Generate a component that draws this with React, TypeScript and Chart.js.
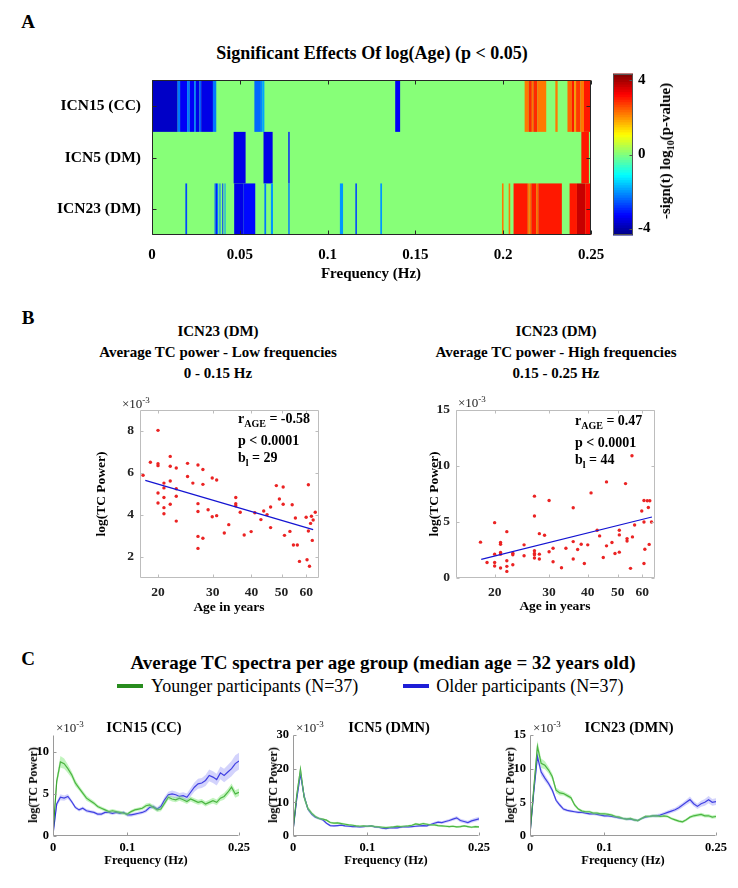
import { useEffect, useRef } from "react";
import { Chart, registerables } from "chart.js";

Chart.register(...registerables);

const SERIF = "'Liberation Serif', 'Times New Roman', Times, serif";

// ---------------- Panel A data ----------------
const heatRows = ["ICN15 (CC)", "ICN5 (DM)", "ICN23 (DM)"];
const heatFreqTicks = [0, 0.05, 0.1, 0.15, 0.2, 0.25];
const colorbarTicks = [-4, 0, 4];
const colorRange = [-4.35, 4.35];
// [start Hz, end Hz, -sign(t) log10(p)]
const icn15Effects = [
  [0.0, 0.0146, -3.8], [0.0146, 0.016, -2.2], [0.016, 0.02, -3.3], [0.02, 0.0215, -2.2],
  [0.0215, 0.024, -3.3], [0.024, 0.025, -2.2], [0.025, 0.027, -3.5], [0.027, 0.028, -2.5],
  [0.028, 0.0347, -3.5], [0.0347, 0.0366, -2.2], [0.0583, 0.062, -2.4], [0.062, 0.063, -2.1],
  [0.063, 0.064, -1.8], [0.1385, 0.1413, -3.3], [0.2122, 0.2145, 2.3], [0.2145, 0.2163, 2.9],
  [0.2163, 0.2172, 2.3], [0.2172, 0.2195, 2.9], [0.2195, 0.2245, 2.3], [0.2297, 0.231, 2.3],
  [0.2366, 0.2391, 2.4], [0.2391, 0.2405, 3.0], [0.2405, 0.2415, 2.0], [0.2415, 0.244, 2.8],
  [0.244, 0.246, 2.3], [0.246, 0.25, 3.0],
];
const icn5Effects = [
  [0.0465, 0.0533, -3.4], [0.0635, 0.0687, -3.4], [0.0776, 0.0784, -3.0], [0.2445, 0.2488, 3.1],
];
const icn23Effects = [
  [0.019, 0.02, -2.6], [0.0356, 0.0362, -2.2], [0.0362, 0.037, -3.0], [0.037, 0.0377, -2.2],
  [0.0384, 0.039, -2.2], [0.04, 0.0405, -2.8], [0.0413, 0.0418, -2.0], [0.0468, 0.052, -3.5],
  [0.052, 0.0588, -3.2], [0.064, 0.065, -2.2], [0.0677, 0.0689, -2.0], [0.0776, 0.0784, -2.2],
  [0.107, 0.1088, -2.0], [0.1158, 0.1167, -2.6], [0.13, 0.131, -2.0], [0.1993, 0.2002, 2.2],
  [0.2031, 0.204, 2.2], [0.2059, 0.214, 3.0], [0.214, 0.215, 2.3], [0.215, 0.216, 2.4],
  [0.216, 0.2188, 3.0], [0.2188, 0.22, 2.4], [0.22, 0.2334, 3.1], [0.2378, 0.242, 3.1],
  [0.242, 0.2467, 3.8], [0.2467, 0.25, 3.2],
];
const heatSegments = [icn15Effects, icn5Effects, icn23Effects];

// ---------------- Panel B data ----------------
const ageTicks = [20, 30, 40, 50, 60];
const lowTicks = [2, 4, 6, 8];
const highTicks = [0, 5, 10, 15];
const lowAges = [17.9, 18.9, 20.0, 20.0, 20.0, 20.0, 20.0, 20.9, 20.9, 20.9, 20.9, 20.9, 21.9, 21.9, 21.9, 21.9,
  22.9, 22.9, 22.9, 22.9, 24.9, 24.9, 25.9, 26.9, 26.9, 26.9, 26.9, 26.9, 27.9, 27.9, 27.9, 29.0, 29.9, 29.9,
  30.9, 30.9, 32.7, 33.8, 35.6, 35.6, 35.6, 36.8, 37.9, 39.9, 41.0, 42.9, 43.8, 44.9, 46.1, 46.1, 48.1, 49.2,
  50.6, 50.6, 51.1, 53.2, 54.1, 54.6, 55.4, 56.2, 57.1, 60.0, 60.4, 61.0, 61.0, 61.5, 62.0, 62.4, 63.2, 62.8, 64.2];
const lowPower = [5.89, 6.51, 8.03, 6.44, 6.35, 5.05, 4.57, 5.52, 5.29, 4.83, 4.35, 4.06, 6.79, 6.32, 5.62, 4.51,
  6.24, 5.25, 4.89, 3.71, 6.46, 5.83, 5.52, 6.38, 4.54, 4.17, 2.98, 2.41, 6.17, 5.46, 2.89, 4.25, 5.76, 3.92,
  5.67, 3.97, 3.14, 3.54, 4.83, 4.54, 4.44, 4.13, 3.05, 3.21, 4.11, 3.78, 4.19, 4.02, 4.38, 3.40, 5.40, 4.76,
  5.33, 4.51, 3.03, 3.22, 4.49, 2.57, 3.86, 2.57, 1.79, 3.89, 1.87, 5.44, 3.24, 1.56, 3.60, 3.94, 3.76, 2.79, 4.13];
const lowFitAges = [18.2, 63.2];
const lowFitPower = [5.65, 3.3];

const highAges = [18.0, 18.9, 20.0, 20.0, 20.0, 20.0, 20.9, 20.9, 20.9, 20.9, 20.9, 21.9, 21.9, 21.9, 21.9, 22.9,
  22.9, 22.9, 24.9, 24.9, 26.9, 26.9, 26.9, 26.9, 26.9, 26.9, 27.9, 27.9, 27.9, 29.0, 30.0, 30.0, 30.9, 30.9,
  32.9, 34.0, 35.9, 35.9, 35.9, 37.1, 38.1, 39.0, 40.0, 41.0, 42.9, 43.7, 44.9, 46.0, 46.0, 47.9, 49.0, 50.6,
  50.6, 50.6, 53.0, 53.6, 53.6, 55.0, 55.6, 55.8, 56.7, 59.8, 60.8, 60.8, 61.2, 60.8, 62.3, 63.5, 62.8, 64.3, 63.2];
const highPower = [3.2, 1.39, 4.94, 2.13, 1.39, 1.07, 3.17, 3.02, 2.28, 2.13, 0.89, 4.14, 1.54, 1.04, 0.59, 2.22,
  2.07, 1.18, 2.96, 1.98, 7.31, 5.53, 2.43, 2.19, 2.07, 1.78, 3.96, 2.13, 1.69, 3.82, 6.92, 2.34, 2.66, 1.45,
  0.92, 2.66, 6.27, 3.25, 1.69, 2.54, 3.02, 1.3, 2.96, 7.6, 4.26, 3.76, 1.83, 8.58, 2.87, 3.17, 2.19, 4.26,
  3.85, 2.31, 8.43, 3.52, 3.31, 0.86, 10.92, 3.67, 4.73, 5.98, 6.92, 5.0, 2.57, 1.3, 6.9, 6.9, 6.3, 5.0, 3.0];
const highFitAges = [18.1, 64.5];
const highFitPower = [1.66, 5.45];

// ---------------- Panel C data ----------------
const specFreqs = [0, 0.005, 0.01, 0.015, 0.02, 0.025, 0.03, 0.035, 0.04, 0.045, 0.05, 0.055, 0.06, 0.065, 0.07,
  0.075, 0.08, 0.085, 0.09, 0.095, 0.1, 0.105, 0.11, 0.115, 0.12, 0.125, 0.13, 0.135, 0.14, 0.145, 0.15, 0.155,
  0.16, 0.165, 0.17, 0.175, 0.18, 0.185, 0.19, 0.195, 0.2, 0.205, 0.21, 0.215, 0.22, 0.225, 0.23, 0.235, 0.24,
  0.245, 0.25];
const specFreqTicks = [0, 0.1, 0.25];

const icn15Young = [0.3, 6.5, 8.8, 8.6, 8.0, 7.3, 6.3, 5.7, 5.1, 4.5, 4.2, 3.9, 3.5, 3.3, 3.1, 2.9, 3.0, 2.9, 2.8,
  2.7, 2.6, 2.9, 3.1, 3.2, 3.3, 3.6, 3.7, 3.4, 3.1, 3.2, 3.9, 4.6, 4.4, 4.3, 4.5, 4.3, 4.1, 4.4, 4.2, 4.0, 4.1,
  3.8, 4.0, 4.2, 4.0, 4.5, 4.7, 5.2, 5.8, 5.0, 5.2];
const icn15YoungSem = [0.1, 0.5, 0.7, 0.6, 0.5, 0.4, 0.4, 0.3, 0.3, 0.3, 0.25, 0.25, 0.2, 0.2, 0.2, 0.2, 0.2, 0.2,
  0.2, 0.2, 0.2, 0.2, 0.2, 0.2, 0.2, 0.25, 0.25, 0.25, 0.25, 0.25, 0.3, 0.3, 0.3, 0.3, 0.3, 0.3, 0.3, 0.3, 0.3,
  0.3, 0.3, 0.3, 0.3, 0.35, 0.35, 0.35, 0.4, 0.4, 0.45, 0.45, 0.45];
const icn15Old = [0.2, 3.8, 4.6, 4.5, 4.7, 4.1, 3.4, 3.1, 3.3, 3.0, 2.9, 2.8, 2.6, 2.6, 2.8, 2.8, 2.7, 2.8, 2.7,
  2.8, 2.5, 2.5, 2.6, 2.7, 2.8, 3.0, 3.4, 3.5, 3.2, 3.5, 4.3, 4.9, 5.0, 4.9, 4.7, 4.8, 4.6, 5.2, 5.8, 6.2, 6.3,
  6.6, 7.2, 7.0, 6.7, 7.5, 7.2, 7.6, 8.0, 8.6, 8.9];
const icn15OldSem = [0.1, 0.3, 0.35, 0.3, 0.3, 0.25, 0.2, 0.2, 0.2, 0.2, 0.2, 0.2, 0.2, 0.2, 0.2, 0.2, 0.2, 0.2,
  0.2, 0.2, 0.2, 0.2, 0.2, 0.2, 0.2, 0.25, 0.25, 0.25, 0.25, 0.3, 0.35, 0.35, 0.4, 0.4, 0.4, 0.4, 0.45, 0.5, 0.55,
  0.6, 0.6, 0.65, 0.7, 0.7, 0.7, 0.75, 0.8, 0.85, 0.9, 1.0, 1.0];

const icn5Young = [1.5, 12.0, 19.8, 11.5, 8.2, 6.8, 5.8, 5.2, 5.0, 4.7, 4.0, 3.8, 3.9, 3.7, 3.5, 3.3, 3.2, 3.0,
  2.9, 3.0, 2.9, 3.0, 2.8, 2.7, 2.6, 2.5, 2.6, 2.7, 2.9, 2.8, 2.9, 3.0, 3.2, 3.6, 3.4, 3.7, 3.5, 3.3, 3.3, 3.1,
  3.0, 2.9, 2.8, 2.9, 2.7, 2.8, 3.0, 2.8, 2.6, 2.8, 2.7];
const icn5YoungSem = [0.2, 1.0, 1.5, 1.0, 0.6, 0.5, 0.4, 0.4, 0.3, 0.3, 0.3, 0.3, 0.3, 0.3, 0.3, 0.3, 0.3, 0.3,
  0.3, 0.3, 0.3, 0.3, 0.3, 0.3, 0.3, 0.3, 0.3, 0.3, 0.3, 0.3, 0.3, 0.3, 0.3, 0.3, 0.3, 0.3, 0.3, 0.3, 0.3, 0.3,
  0.3, 0.3, 0.3, 0.3, 0.3, 0.3, 0.3, 0.3, 0.3, 0.3, 0.3];
const icn5Old = [1.5, 11.0, 18.5, 11.8, 8.0, 6.5, 5.6, 5.2, 4.8, 3.8, 3.1, 3.0, 3.1, 3.2, 3.0, 2.9, 2.8, 2.8, 2.7,
  2.8, 2.9, 3.0, 2.7, 2.6, 2.3, 2.2, 2.4, 2.5, 2.4, 2.6, 2.8, 2.7, 2.8, 2.9, 3.0, 3.1, 3.0, 3.4, 3.8, 4.1, 4.0,
  4.3, 4.6, 5.0, 5.4, 4.6, 4.3, 4.0, 4.5, 4.8, 5.1];
const icn5OldSem = [0.2, 1.0, 1.4, 1.0, 0.6, 0.5, 0.4, 0.4, 0.3, 0.3, 0.3, 0.3, 0.3, 0.3, 0.3, 0.3, 0.3, 0.3,
  0.3, 0.3, 0.3, 0.3, 0.3, 0.3, 0.3, 0.3, 0.3, 0.3, 0.3, 0.3, 0.3, 0.3, 0.3, 0.3, 0.3, 0.3, 0.35, 0.35, 0.4, 0.4,
  0.4, 0.45, 0.45, 0.5, 0.55, 0.5, 0.5, 0.5, 0.55, 0.6, 0.6];

const icn23Young = [0.3, 7.0, 13.3, 10.8, 10.5, 9.8, 8.8, 6.8, 6.4, 6.3, 6.0, 5.7, 4.6, 4.0, 3.7, 3.6, 3.6, 3.4,
  3.4, 3.3, 3.3, 3.2, 3.1, 2.9, 2.8, 2.6, 2.5, 2.6, 2.4, 2.3, 2.6, 2.9, 2.9, 3.0, 3.0, 2.9, 3.0, 2.9, 2.6, 2.4,
  2.2, 2.1, 2.4, 2.8, 3.0, 3.1, 3.2, 3.0, 3.0, 2.8, 2.9];
const icn23YoungSem = [0.1, 0.6, 0.9, 0.7, 0.6, 0.5, 0.5, 0.4, 0.4, 0.3, 0.3, 0.3, 0.25, 0.2, 0.2, 0.2, 0.2, 0.2,
  0.2, 0.2, 0.2, 0.2, 0.2, 0.2, 0.2, 0.2, 0.2, 0.2, 0.2, 0.2, 0.2, 0.2, 0.2, 0.2, 0.2, 0.2, 0.2, 0.2, 0.2, 0.2,
  0.2, 0.2, 0.2, 0.2, 0.25, 0.25, 0.25, 0.25, 0.25, 0.25, 0.25];
const icn23Old = [0.3, 6.5, 11.8, 9.5, 8.6, 7.8, 6.8, 5.3, 4.6, 4.0, 3.8, 3.7, 3.6, 3.5, 3.5, 3.4, 3.3, 3.3, 3.2,
  3.1, 3.0, 3.0, 2.9, 2.8, 2.7, 2.6, 2.5, 2.5, 2.4, 2.3, 2.6, 2.8, 2.9, 3.0, 3.0, 3.1, 3.3, 3.5, 3.7, 3.9, 4.2,
  4.6, 5.0, 5.4, 4.8, 4.4, 4.8, 5.0, 5.4, 5.0, 5.1];
const icn23OldSem = [0.1, 0.5, 0.7, 0.6, 0.5, 0.4, 0.4, 0.3, 0.3, 0.25, 0.2, 0.2, 0.2, 0.2, 0.2, 0.2, 0.2, 0.2,
  0.2, 0.2, 0.2, 0.2, 0.2, 0.2, 0.2, 0.2, 0.2, 0.2, 0.2, 0.2, 0.2, 0.2, 0.2, 0.2, 0.25, 0.25, 0.25, 0.3, 0.3, 0.3,
  0.35, 0.35, 0.4, 0.45, 0.4, 0.4, 0.45, 0.5, 0.55, 0.5, 0.5];

const spectraPanels = [
  { title: "ICN15 (CC)", young: icn15Young, youngSem: icn15YoungSem, old: icn15Old, oldSem: icn15OldSem, yMax: 12, yTicks: [0, 5, 10] },
  { title: "ICN5 (DMN)", young: icn5Young, youngSem: icn5YoungSem, old: icn5Old, oldSem: icn5OldSem, yMax: 30, yTicks: [0, 10, 20, 30] },
  { title: "ICN23 (DMN)", young: icn23Young, youngSem: icn23YoungSem, old: icn23Old, oldSem: icn23OldSem, yMax: 15, yTicks: [0, 5, 10, 15] },
];

// ---------------- styling ----------------
const GREEN = "rgb(40,140,30)";
const BLUE = "rgb(30,30,215)";
const GREEN_BAND = "rgba(120,230,110,0.45)";
const BLUE_BAND = "rgba(130,130,245,0.35)";

function jet(v: number) {
  const [lo, hi] = colorRange;
  let idx = Math.floor(((v - lo) / (hi - lo)) * 64);
  idx = Math.max(0, Math.min(63, idx));
  const t = (idx + 0.5) / 64;
  const c = (x: number) => Math.round(255 * Math.max(0, Math.min(1, x)));
  return `rgb(${c(1.5 - Math.abs(4 * t - 3))},${c(1.5 - Math.abs(4 * t - 2))},${c(1.5 - Math.abs(4 * t - 1))})`;
}

const axesBox = {
  id: "axesBox",
  afterDraw(chart: any, _a: any, opts: any) {
    if (!opts || !opts.enabled) return;
    const { ctx, chartArea: a, scales } = chart;
    const L = Math.round(a.left) + 0.5, R = Math.round(a.right) - 0.5;
    const T = Math.round(a.top) + 0.5, B = Math.round(a.bottom) - 0.5;
    const len = opts.len ?? 4;
    ctx.save();
    ctx.strokeStyle = opts.color;
    ctx.lineWidth = 1;
    ctx.beginPath();
    if (opts.box) {
      ctx.rect(L, T, R - L, B - T);
    } else {
      ctx.moveTo(L, T); ctx.lineTo(L, B); ctx.lineTo(R, B);
    }
    const xs = scales.x, ys = scales.y;
    if (xs && xs.options.display !== false) {
      xs.ticks.forEach((_t: any, i: number) => {
        const p = Math.round(xs.getPixelForTick(i)) + 0.5;
        ctx.moveTo(p, B); ctx.lineTo(p, B - len);
        if (opts.box) { ctx.moveTo(p, T); ctx.lineTo(p, T + len); }
      });
    }
    if (ys) {
      ys.ticks.forEach((_t: any, i: number) => {
        const p = Math.round(ys.getPixelForTick(i)) + 0.5;
        if (opts.yRightOnly) { ctx.moveTo(R, p); ctx.lineTo(R - len, p); return; }
        ctx.moveTo(L, p); ctx.lineTo(L + len, p);
        if (opts.box) { ctx.moveTo(R, p); ctx.lineTo(R - len, p); }
      });
    }
    ctx.stroke();
    ctx.restore();
  },
};

const heatPlugin = {
  id: "heatCells",
  beforeDatasetsDraw(chart: any) {
    const { ctx, chartArea: a, scales } = chart;
    const xs = scales.x, ys = scales.y;
    ctx.save();
    ctx.fillStyle = jet(0);
    ctx.fillRect(a.left, a.top, a.right - a.left, a.bottom - a.top);
    heatSegments.forEach((segs, row) => {
      const y0 = ys.getPixelForValue(row - 0.5);
      const y1 = ys.getPixelForValue(row + 0.5);
      segs.forEach(([s, e, v]) => {
        const x0 = xs.getPixelForValue(s);
        const x1 = xs.getPixelForValue(e);
        ctx.fillStyle = jet(v);
        ctx.fillRect(x0, Math.min(y0, y1), Math.max(1, x1 - x0), Math.abs(y1 - y0));
      });
    });
    ctx.restore();
  },
};

const colorbarPlugin = {
  id: "colorbarFill",
  beforeDatasetsDraw(chart: any) {
    const { ctx, chartArea: a, scales } = chart;
    const ys = scales.y;
    const [lo, hi] = colorRange;
    ctx.save();
    for (let k = 0; k < 64; k++) {
      const v0 = lo + ((hi - lo) * k) / 64;
      const v1 = lo + ((hi - lo) * (k + 1)) / 64;
      const p0 = ys.getPixelForValue(v0), p1 = ys.getPixelForValue(v1);
      ctx.fillStyle = jet((v0 + v1) / 2);
      ctx.fillRect(a.left, Math.min(p0, p1) - 0.5, a.right - a.left, Math.abs(p1 - p0) + 1);
    }
    ctx.restore();
  },
};

const tickFont = (size: number) => ({ family: SERIF, size, weight: "bold" as const });
const fixW = (w: number) => (s: any) => { s.width = w; };
const fixH = (h: number) => (s: any) => { s.height = h; };
const setTicks = (vals: number[]) => (s: any) => { s.ticks = vals.map((v) => ({ value: v })); };

function ChartBox({ left, top, width, height, make }: any) {
  const ref = useRef<HTMLCanvasElement>(null);
  useEffect(() => {
    const chart = new Chart(ref.current as HTMLCanvasElement, make());
    return () => chart.destroy();
  }, []);
  return (
    <canvas ref={ref} width={width} height={height}
      style={{ position: "absolute", left, top, width, height }} />
  );
}

function Txt({ x, y, size = 15, bold = true, children }: any) {
  return (
    <div style={{
      position: "absolute", left: x, top: y, whiteSpace: "nowrap",
      transform: "translate(-50%,-50%)",
      fontFamily: SERIF, fontSize: size, fontWeight: bold ? 700 : 400, color: "#000", lineHeight: 1,
    }}>{children}</div>
  );
}

function RotTxt({ x, y, size = 14, children }: any) {
  return (
    <div style={{
      position: "absolute", left: x, top: y, whiteSpace: "nowrap",
      transform: "translate(-50%,-50%) rotate(-90deg)",
      fontFamily: SERIF, fontSize: size, fontWeight: 700, color: "#000", lineHeight: 1,
    }}>{children}</div>
  );
}

function Exp({ x, y }: any) {
  return (
    <div style={{ position: "absolute", left: x, top: y, transform: "translateY(-50%)", fontFamily: SERIF, fontSize: 13, color: "#222", whiteSpace: "nowrap", lineHeight: 1 }}>
      ×10<sup style={{ fontSize: 9 }}>-3</sup>
    </div>
  );
}

// ---------- chart configs ----------
function heatConfig(): any {
  return {
    type: "scatter",
    data: { labels: heatRows, datasets: [] },
    plugins: [heatPlugin, axesBox],
    options: {
      responsive: false, animation: false,
      layout: { padding: { left: 0, right: 29, top: 7, bottom: 15 } },
      plugins: { legend: { display: false }, tooltip: { enabled: false }, axesBox: { enabled: true, box: true, color: "#262626", len: 4 } },
      scales: {
        x: {
          type: "linear", min: 0, max: 0.25, afterBuildTicks: setTicks(heatFreqTicks), afterFit: fixH(25),
          grid: { display: false, drawTicks: false }, border: { display: false },
          ticks: { font: tickFont(15), color: "#000", padding: 11, maxRotation: 0, callback: (v: any) => String(v) },
        },
        y: {
          type: "category", labels: heatRows, offset: true, afterFit: fixW(152),
          grid: { display: false, drawTicks: false }, border: { display: false },
          ticks: { font: tickFont(15.5), color: "#000", padding: 11 },
        },
      },
    },
  };
}

function colorbarConfig(): any {
  return {
    type: "scatter",
    data: { datasets: [] },
    plugins: [colorbarPlugin, axesBox],
    options: {
      responsive: false, animation: false,
      layout: { padding: { left: 13, right: 47, top: 7, bottom: 40 } },
      plugins: { legend: { display: false }, tooltip: { enabled: false }, axesBox: { enabled: true, box: true, color: "#555", len: 3, yRightOnly: true } },
      scales: {
        x: { display: false, min: 0, max: 1 },
        y: {
          type: "linear", position: "right", min: colorRange[0], max: colorRange[1],
          afterBuildTicks: setTicks(colorbarTicks), afterFit: fixW(20),
          grid: { display: false, drawTicks: false }, border: { display: false },
          ticks: { font: tickFont(15), color: "#000", padding: 5 },
        },
      },
    },
  };
}

function scatterConfig(ages: number[], power: number[], fitA: number[], fitP: number[], xMin: number, yMin: number, yMax: number, yTicks: number[], pad: any, yW: number): any {
  return {
    type: "scatter",
    data: {
      datasets: [
        { type: "line", data: fitA.map((a, i) => ({ x: a, y: fitP[i] })), borderColor: "rgb(20,20,210)", borderWidth: 1.2, pointRadius: 0, fill: false },
        { data: ages.map((a, i) => ({ x: a, y: power[i] })), backgroundColor: "rgb(235,35,35)", borderWidth: 0, pointRadius: 1.7 },
      ],
    },
    plugins: [axesBox],
    options: {
      responsive: false, animation: false,
      layout: { padding: pad },
      plugins: { legend: { display: false }, tooltip: { enabled: false }, axesBox: { enabled: true, box: true, color: "#bdbdbd", len: 3 } },
      scales: {
        x: {
          type: "logarithmic", min: xMin, max: 66, afterBuildTicks: setTicks(ageTicks), afterFit: fixH(25),
          grid: { display: false, drawTicks: false }, border: { display: false },
          ticks: { font: tickFont(13.5), color: "#222", padding: 6, maxRotation: 0, callback: (v: any) => String(v) },
        },
        y: {
          type: "linear", min: yMin, max: yMax, afterBuildTicks: setTicks(yTicks), afterFit: fixW(yW),
          grid: { display: false, drawTicks: false }, border: { display: false },
          ticks: { font: tickFont(13.5), color: "#222", padding: 6, callback: (v: any) => String(v) },
        },
      },
    },
  };
}

function spectraConfig(p: any): any {
  const pts = (arr: number[]) => arr.map((v, i) => ({ x: specFreqs[i], y: v }));
  const up = (m: number[], s: number[]) => m.map((v, i) => ({ x: specFreqs[i], y: v + s[i] }));
  const dn = (m: number[], s: number[]) => m.map((v, i) => ({ x: specFreqs[i], y: v - s[i] }));
  const band = (data: any, color: string, fill: any) => ({ data, borderWidth: 0, pointRadius: 0, backgroundColor: color, fill, tension: 0 });
  return {
    type: "line",
    data: {
      datasets: [
        band(up(p.young, p.youngSem), GREEN_BAND, "+1"),
        band(dn(p.young, p.youngSem), GREEN_BAND, false),
        band(up(p.old, p.oldSem), BLUE_BAND, "+1"),
        band(dn(p.old, p.oldSem), BLUE_BAND, false),
        { data: pts(p.young), borderColor: GREEN, borderWidth: 1.2, pointRadius: 0, fill: false },
        { data: pts(p.old), borderColor: BLUE, borderWidth: 1.2, pointRadius: 0, fill: false },
      ],
    },
    plugins: [axesBox],
    options: {
      responsive: false, animation: false,
      layout: { padding: { left: 0, right: 21, top: 15, bottom: 15 } },
      plugins: { legend: { display: false }, tooltip: { enabled: false }, filler: { propagate: false }, axesBox: { enabled: true, box: false, color: "#9a9a9a", len: 3 } },
      scales: {
        x: {
          type: "linear", min: 0, max: 0.25, afterBuildTicks: setTicks(specFreqTicks), afterFit: fixH(20),
          grid: { display: false, drawTicks: false }, border: { display: false },
          ticks: { font: tickFont(12.5), color: "#000", padding: 4, maxRotation: 0, callback: (v: any) => String(v) },
        },
        y: {
          type: "linear", min: 0, max: p.yMax, afterBuildTicks: setTicks(p.yTicks), afterFit: fixW(53),
          grid: { display: false, drawTicks: false }, border: { display: false },
          ticks: { font: tickFont(12.5), color: "#000", padding: 4, callback: (v: any) => String(v) },
        },
      },
    },
  };
}

const specLefts = [0, 240, 477];
const specPlotLefts = [53, 293, 530];
const specTitleX = [144, 389, 629];

export default function App() {
  return (
    <div style={{ position: "fixed", left: 0, top: 0, width: 738, height: 888, background: "#fff", overflow: "hidden" }}>
      {/* Panel A */}
      <Txt x={28} y={21} size={19}>A</Txt>
      <Txt x={372} y={53} size={18}>Significant Effects Of log(Age) (p &lt; 0.05)</Txt>
      <ChartBox left={0} top={60} width={620} height={215} make={heatConfig} />
      <ChartBox left={600} top={60} width={100} height={215} make={colorbarConfig} />
      <Txt x={371} y={273} size={15}>Frequency (Hz)</Txt>
      <RotTxt x={667} y={151} size={15}>-sign(t) log<sub style={{ fontSize: 10 }}>10</sub>(p-value)</RotTxt>

      {/* Panel B */}
      <Txt x={28} y={317} size={19}>B</Txt>
      <Txt x={218} y={331} size={15}>ICN23 (DM)</Txt>
      <Txt x={218} y={352} size={15}>Average TC power - Low frequencies</Txt>
      <Txt x={218} y={373} size={15}>0 - 0.15 Hz</Txt>
      <Txt x={556} y={331} size={15}>ICN23 (DM)</Txt>
      <Txt x={556} y={352} size={15}>Average TC power - High frequencies</Txt>
      <Txt x={556} y={373} size={15}>0.15 - 0.25 Hz</Txt>

      <ChartBox left={60} top={394} width={280} height={231}
        make={() => scatterConfig(lowAges, lowPower, lowFitAges, lowFitPower, 17.5, 1, 9, lowTicks, { left: 0, right: 21, top: 16, bottom: 22 }, 80)} />
      <Exp x={122} y={403} />
      <RotTxt x={101} y={494} size={13.5}>log(TC Power)</RotTxt>
      <Txt x={229} y={607} size={13.5}>Age in years</Txt>
      <div style={{ position: "absolute", left: 238, top: 410, fontFamily: SERIF, fontWeight: 700, fontSize: 14, lineHeight: "17px" }}>
        <div>r<sub style={{ fontSize: 10 }}>AGE</sub> = -0.58</div>
        <div>p &lt; 0.0001</div>
        <div>b<sub style={{ fontSize: 10 }}>l</sub> = 29</div>
      </div>

      <ChartBox left={380} top={394} width={300} height={231}
        make={() => scatterConfig(highAges, highPower, highFitAges, highFitPower, 15, 0, 15, highTicks, { left: 0, right: 25, top: 16, bottom: 22 }, 76)} />
      <Exp x={458} y={402} />
      <RotTxt x={434} y={494} size={13.5}>log(TC Power)</RotTxt>
      <Txt x={555} y={606} size={13.5}>Age in years</Txt>
      <div style={{ position: "absolute", left: 575, top: 412, fontFamily: SERIF, fontWeight: 700, fontSize: 14, lineHeight: "17px" }}>
        <div>r<sub style={{ fontSize: 10 }}>AGE</sub> = 0.47</div>
        <div>p &lt; 0.0001</div>
        <div>b<sub style={{ fontSize: 10 }}>l</sub> = 44</div>
      </div>

      {/* Panel C */}
      <Txt x={28} y={658} size={19}>C</Txt>
      <Txt x={383} y={662} size={19}>Average TC spectra per age group (median age = 32 years old)</Txt>
      <div style={{ position: "absolute", left: 117, top: 686, transform: "translateY(-50%)", display: "flex", alignItems: "center", fontFamily: SERIF, fontSize: 18, whiteSpace: "nowrap", lineHeight: 1 }}>
        <span style={{ display: "inline-block", width: 26, height: 4, background: GREEN, marginRight: 8 }} />
        <span>Younger participants (N=37)</span>
        <span style={{ display: "inline-block", width: 26, height: 4, background: BLUE, marginLeft: 45, marginRight: 7 }} />
        <span>Older participants (N=37)</span>
      </div>

      {spectraPanels.map((p, i) => (
        <div key={p.title}>
          <ChartBox left={specLefts[i]} top={720} width={260} height={151} make={() => spectraConfig(p)} />
          <Exp x={specPlotLefts[i] + 3} y={727} />
          <Txt x={specTitleX[i]} y={727} size={14.5}>{p.title}</Txt>
          <RotTxt x={specPlotLefts[i] - 20} y={785} size={12}>log(TC Power)</RotTxt>
          <Txt x={specPlotLefts[i] + 93} y={860} size={12.5}>Frequency (Hz)</Txt>
        </div>
      ))}
    </div>
  );
}
